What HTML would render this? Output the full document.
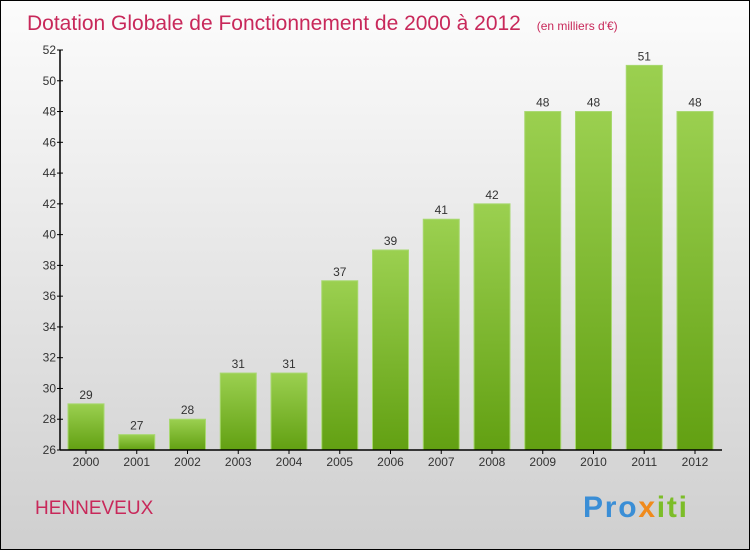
<!DOCTYPE html>
<html><head><meta charset="utf-8"><style>
body{margin:0}
svg{display:block;font-family:"Liberation Sans",sans-serif}
</style></head><body>
<svg id="c" width="750" height="550">
<defs>
<linearGradient id="bg" x1="0" y1="0" x2="0" y2="1"><stop offset="0" stop-color="#fcfcfc"/><stop offset="1" stop-color="#cfcfcf"/></linearGradient>
<linearGradient id="bar" x1="0" y1="0" x2="0" y2="1"><stop offset="0" stop-color="#9bd050"/><stop offset="1" stop-color="#62a012"/></linearGradient>
</defs>
<rect x="0.5" y="0.5" width="749" height="549" fill="url(#bg)" stroke="#000"/>
<text x="27" y="30" font-size="21" fill="#c8285a">Dotation Globale de Fonctionnement de 2000 à 2012 <tspan font-size="12" dx="10">(en milliers d'€)</tspan></text>
<text x="35" y="514" font-size="19" fill="#c8285a">HENNEVEUX</text>
<text x="583" y="517" font-size="30" font-weight="bold" textLength="104"><tspan fill="#3a8ed6">Pro</tspan><tspan fill="#f08a1c">x</tspan><tspan fill="#7cbd28">iti</tspan></text>
<g id="plot"></g>
</svg>
<script>
const years=["2000","2001","2002","2003","2004","2005","2006","2007","2008","2009","2010","2011","2012"];
const values=[29,27,28,31,31,37,39,41,42,48,48,51,48];
const yTicks=[26,28,30,32,34,36,38,40,42,44,46,48,50,52];
const NS="http://www.w3.org/2000/svg";
const g=document.getElementById('plot');
const y0=450,y1=50,vmin=26,vmax=52;
const y=v=>y0-(v-vmin)*(y0-y1)/(vmax-vmin);
const x=i=>86+i*50.75;
function mk(t,a,txt){const e=document.createElementNS(NS,t);for(const k in a)e.setAttribute(k,a[k]);if(txt!=null)e.textContent=txt;g.appendChild(e);return e;}
values.forEach((v,i)=>{
 const r=mk('rect',{x:x(i)-18,y:y(v),width:36,height:y0-y(v),fill:'url(#bar)',stroke:'#a8d870','stroke-width':1});
 
 
 const t=mk('text',{x:x(i),y:y(v)-5,'text-anchor':'middle','font-size':12,fill:'#333'},String(v));
 
 
 const l=mk('text',{x:x(i),y:466,'text-anchor':'middle','font-size':12,fill:'#333'},years[i]);
 
 
 const tk=mk('line',{x1:x(i),x2:x(i),y1:y0,y2:y0+4,stroke:'#000'});
 
 
});
yTicks.forEach(v=>{
 const t=mk('text',{x:56,y:y(v)+4,'text-anchor':'end','font-size':12,fill:'#333'},String(v));
 
 
 const tk=mk('line',{x1:57,x2:63,y1:y(v),y2:y(v),stroke:'#000'});
 
 
});
const ya=mk('line',{x1:60,x2:60,y1:y1,y2:y0,stroke:'#000','stroke-width':1.5});


const xa=mk('line',{x1:60,x2:722,y1:y0,y2:y0,stroke:'#000','stroke-width':1.5});


</script>
</body></html>
